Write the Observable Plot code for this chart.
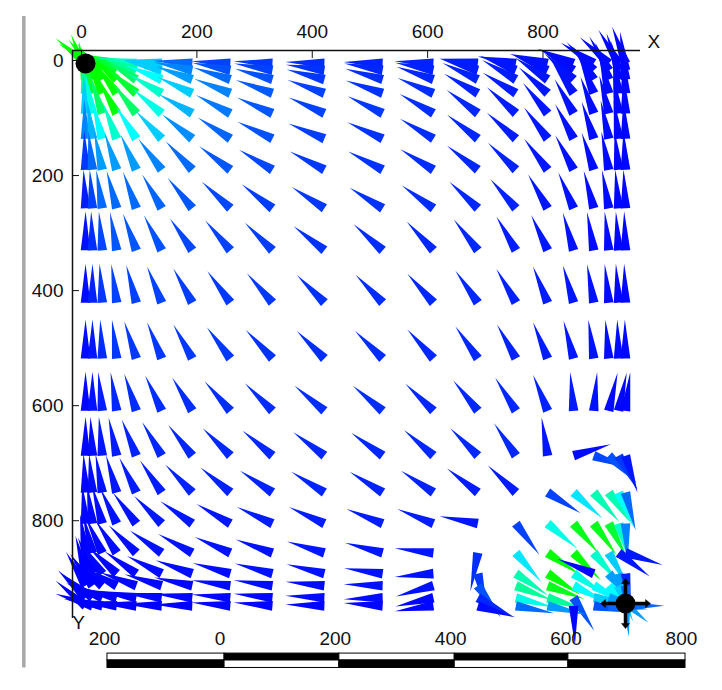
<!DOCTYPE html>
<html>
<head>
<meta charset="utf-8">
<style>html,body{margin:0;padding:0;background:#fff}svg{display:block}</style>
<script src="https://cdn.jsdelivr.net/npm/d3@7"></script>
<script src="https://cdn.jsdelivr.net/npm/@observablehq/plot@0.6"></script>
</head>
<body>
<script>
const xNodes = [7,19,36,61,95,139,192,258,331,421,522,610,687,753,808,853,888,914,931,943];
const yNodes = [5,17,33,57,92,136,190,257,330,421,518,609,687,751,805,856,892,913,934,948];

// direction of each wedge, degrees clockwise from "up"
const directions = [
 [-50,-60,-68,-76,-82,-85,-86,-87,-87,-88,-88,-87,-83,-80,-76,-68,-58,-48,-31,-20],
 [-22,-38,-50,-62,-70,-76,-78,-79,-80,-82,-80,-79,-73,-68,-66,-58,-44,-30,-18,-8],
 [-10,-22,-34,-48,-58,-68,-70,-72,-74,-75,-74,-71,-65,-60,-56,-48,-32,-20,-11,-5],
 [-5,-14,-24,-36,-50,-60,-65,-68,-70,-70,-71,-67,-60,-58,-48,-34,-22,-14,-8,-3],
 [-3,-10,-18,-28,-38,-50,-60,-62,-66,-66,-64,-60,-53,-48,-39,-29,-20,-14,-8,-3],
 [-2,-8,-15,-21,-32,-43,-51,-57,-64,-67,-65,-59,-52,-48,-37,-28,-18,-12,-7,-3],
 [-2,-6,-12,-18,-24,-37,-43,-53,-59,-62,-62,-58,-52,-46,-37,-28,-18,-11,-6,-3],
 [-3,-4,-9,-15,-20,-30,-39,-47,-52,-57,-58,-54,-47,-41,-30,-23,-15,-10,-5,-3],
 [0,-2,-5,-10,-20,-27,-35,-40,-45,-52,-48,-43,-38,-30,-25,-16,-10,-6,-4,-2],
 [0,0,-4,-8,-15,-22,-29,-36,-41,-45,-44,-42,-35,-30,-22,-16,-10,-6,-4,-2],
 [0,0,-3,-7,-18,-22,-29,-37,-43,-45,-45,-42,-35,-29,-22,-15,-8,-5,-2,-1],
 [0,0,-6,-9,-18,-25,-31,-41,-45,-50,-50,-46,-39,-32,-22,-5,5,13,12,7],
 [0,-3,-5,-12,-22,-30,-38,-45,-50,-53,-54,-49,-45,-34,-9,73,109,134,151,162],
 [-3,-5,-10,-16,-26,-34,-44,-50,-56,-58,-58,-56,-52,-46,122,132,139,144,156,165],
 [-5,-8,-15,-25,-37,-45,-55,-60,-65,-65,-68,-68,-79,143,130,140,144,152,163,177],
 [-8,-14,-25,-33,-45,-55,-61,-66,-70,-73,-75,-83,-169,139,124,135,140,150,127,108],
 [-15,-22,-35,-47,-55,-63,-70,-74,-75,-76,-82,-95,166,124,123,124,-68,140,165,172],
 [-30,-35,-50,-62,-70,-73,-78,-82,-82,-84,-88,-106,144,112,110,117,120,137,158,175],
 [-45,-52,-68,-76,-80,-83,-84,-85,-84,-87,-92,-103,118,104,107,148,98,105,130,175],
 [-50,-72,-80,-84,-86,-87,-88,-85,-85,-88,-86,-98,107,101,103,178,100,95,90,90]
];

// magnitude class of each wedge (0 blue, about 5 cyan, 10 green)
const magnitudes = [
 [10,10,10,9,6,4,2,1.2,1,.8,.6,.6,.5,.4,.3,.2,.2,.2,.1,.1],
 [10,10,10,9,7,4,2.5,1.5,1.2,.9,.7,.6,.5,.4,.3,.2,.2,.2,.1,.1],
 [9,10,10,10,8,5,3,2,1.5,1,.8,.7,.6,.5,.4,.3,.2,.2,.1,.1],
 [7,9,10,10,9,6,4,2.5,1.7,1.2,.9,.8,.6,.5,.4,.3,.2,.2,.1,.1],
 [4,5.5,8,10,8,5.5,3.5,2.3,1.6,1.2,1,.8,.7,.5,.4,.3,.2,.2,.1,.1],
 [2.5,3.5,5,6,5,4,2.7,1.9,1.5,1.1,.9,.8,.7,.5,.4,.3,.2,.2,.1,.1],
 [1,2,3,3,3,2.5,2,1.6,1.3,1,.9,.8,.7,.6,.4,.3,.2,.2,.1,.1],
 [.5,1.2,2,2,2,1.9,1.6,1.3,1.1,1,.9,.8,.7,.6,.4,.3,.2,.2,.1,.1],
 [.3,.8,1.3,1.6,1.6,1.5,1.3,1.2,1.1,.9,.8,.7,.7,.5,.4,.3,.2,.2,.1,.1],
 [.2,.6,1,1.2,1.2,1.2,1.1,1,1,.9,.8,.7,.7,.6,.5,.4,.3,.2,.1,.1],
 [.2,.4,.8,1,1,1,1,1,.9,.8,.8,.7,.7,.6,.5,.4,.3,.2,.2,.1],
 [.1,.3,.5,.7,.8,.8,.8,.8,.8,.8,.8,.7,.7,.7,.6,.5,.3,.2,.1,.1],
 [.1,.2,.4,.5,.6,.7,.7,.7,.7,.7,.7,.7,.7,.7,.4,.2,1.3,1.5,1,.4],
 [.1,.2,.3,.4,.5,.5,.6,.6,.6,.6,.6,.6,.5,.5,1.2,4.5,6.5,6.5,5,2],
 [.1,.1,.2,.3,.3,.4,.4,.4,.5,.5,.5,.5,.4,1.2,5.5,9.5,9.5,9,6,2.5],
 [0,.1,.1,.2,.2,.3,.3,.3,.3,.4,.4,.4,.8,4.5,10,10,6,4,.4,.4],
 [0,0,.1,.1,.1,.2,.2,.2,.3,.3,.3,.3,1,6.5,10,5.5,.1,3,3,.6],
 [0,0,0,.1,.1,.1,.1,.2,.2,.2,.3,.3,1.5,7,9.5,5,5,5,4,2],
 [0,0,0,0,0,.1,.1,.1,.1,.2,.2,.1,.7,5.5,7,1.5,4,3,3,3],
 [0,0,0,0,0,0,0,.1,.1,.1,.1,.1,.2,2,3,.1,1.5,2,2,2]
];

const xTicks = [0,200,400,600,800];
const yTicks = [0,200,400,600,800];
const wells = [{x:7,y:5},{x:943,y:944}];
const crossArms = [0,90,180,270];
const rulerTicks = [-200,0,200,400,600,800];
const rulerEdges = [-195,8,207,407,604,807];
const rulerOffset = 240;

const wedges = yNodes.flatMap((y,j)=>xNodes.map((x,i)=>({x,y,angle:directions[j][i],level:magnitudes[j][i]})));
const rulerCells = d3.pairs(rulerEdges).map(([a,b],i)=>({a:a+rulerOffset,b:b+rulerOffset,i}));

const wedgeShape = {draw(ctx,l,r){ctx.moveTo(-r,0);ctx.lineTo(0,-l);ctx.lineTo(r,0);ctx.closePath();}};
const armShape = {draw(ctx,l,r){
  ctx.moveTo(-1.5,0);ctx.lineTo(-1.5,-l+5);ctx.lineTo(-r,-l+5);ctx.lineTo(0,-l);ctx.lineTo(r,-l+5);ctx.lineTo(1.5,-l+5);ctx.lineTo(1.5,0);ctx.closePath();
}};
const font = {fontFamily:"Liberation Sans, Arial, sans-serif",fontSize:19,fill:"#111"};

const chart = Plot.plot({
  width:722,height:690,marginLeft:72,marginRight:82,marginTop:50,marginBottom:72,
  style:{background:"#fff",fontFamily:"Liberation Sans, Arial, sans-serif",fontSize:"19px",color:"#111"},
  x:{domain:[-15.6,969]},
  y:{domain:[970,-17.4]},
  color:{type:"linear",domain:[0,1,5,10],range:["#0000ff","#0038ff","#00ffff","#00ff00"],interpolate:"rgb"},
  marks:[
    Plot.ruleX([-100],{y1:-76.5,y2:1056,stroke:"#a8a8a8",strokeWidth:3.5}),
    Plot.vector(wedges,{x:"x",y:"y",rotate:"angle",length:39,r:4.8,anchor:"start",shape:wedgeShape,fill:"level",stroke:"none"}),
    Plot.ruleY([-17.4],{x1:-15.6,x2:969,stroke:"#111",strokeWidth:1.5}),
    Plot.ruleX([-15.6],{y1:-17.4,y2:970,stroke:"#111",strokeWidth:1.5}),
    Plot.axisX({anchor:"top",ticks:xTicks,tickSize:-7,tickPadding:20,label:null,fontSize:19,stroke:"#111"}),
    Plot.axisY({anchor:"left",ticks:yTicks,tickSize:-7,tickPadding:16,label:null,fontSize:19,stroke:"#111"}),
    Plot.text(["X"],{x:[992],y:[-33],text:d=>d,...font}),
    Plot.text(["Y"],{x:[-5],y:[978],text:d=>d,...font}),
    Plot.dot([wells[0]],{x:"x",y:"y",r:10,fill:"#000"}),
    Plot.vector(crossArms,{x:wells[1].x,y:wells[1].y,rotate:d=>d,length:25,r:4,anchor:"start",shape:armShape,fill:"#000",stroke:"#000",strokeWidth:0.5}),
    Plot.dot([wells[1]],{x:"x",y:"y",r:10,fill:"#000"}),
    Plot.text(rulerTicks,{x:d=>d+rulerOffset,y:[1005,1005,1005,1005,1005,1005],text:d=>String(Math.abs(d)),...font}),
    Plot.rect(rulerCells,{x1:"a",x2:"b",y1:1031,y2:1043,fill:d=>d.i%2?"#000":"#fff",stroke:"#000",strokeWidth:1}),
    Plot.rect(rulerCells,{x1:"a",x2:"b",y1:1043,y2:1056,fill:d=>d.i%2?"#fff":"#000",stroke:"#000",strokeWidth:1})
  ]
});
document.body.appendChild(chart);
</script>
</body>
</html>
